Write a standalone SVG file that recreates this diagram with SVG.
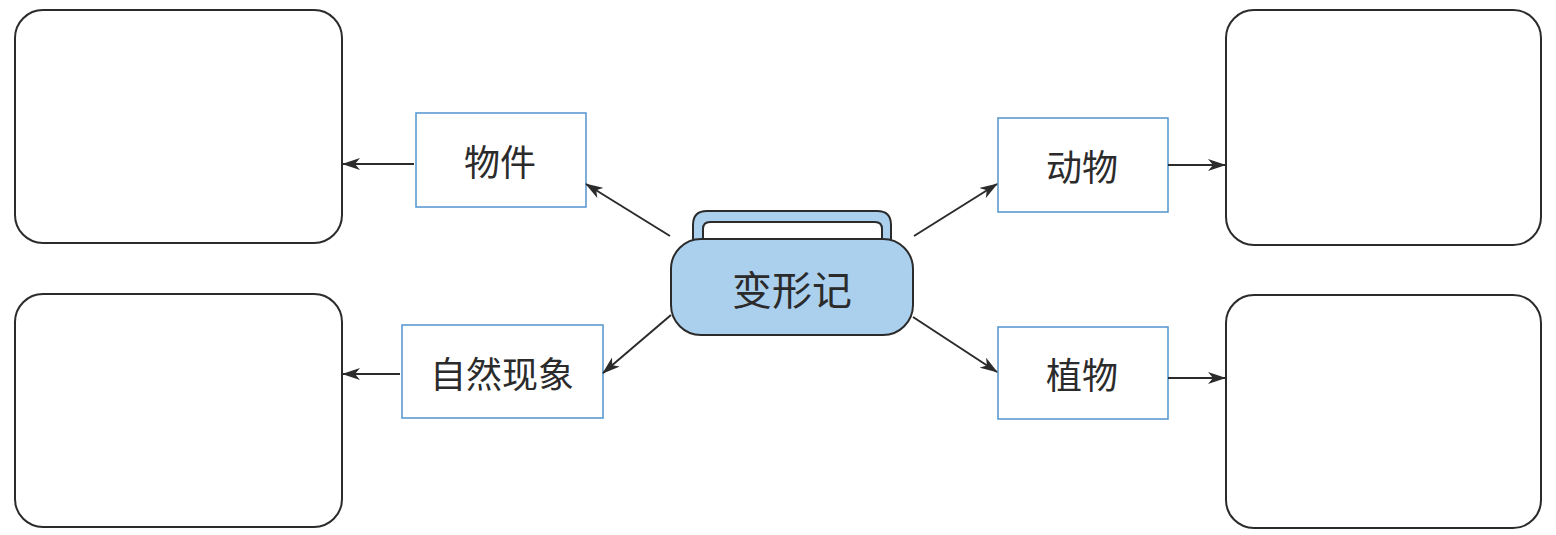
<svg xmlns="http://www.w3.org/2000/svg" width="1556" height="535" viewBox="0 0 1556 535">
<style>
.big{fill:#fff;stroke:#2b2b2b;stroke-width:2}
.lab{fill:#fff;stroke:#5b9bd0;stroke-width:1.6}
.t{font-family:"Noto Sans CJK SC","Liberation Sans",sans-serif;font-size:36px;fill:#2b2b2b;text-anchor:middle}
.c{stroke:#2b2b2b;stroke-width:2;fill:none;marker-end:url(#ah)}
</style>
<defs>
<marker id="ah" viewBox="0 0 18 12" refX="17" refY="6" markerWidth="18" markerHeight="12" markerUnits="userSpaceOnUse" orient="auto">
<path d="M0,0 L18,6 L0,12 L5,6 Z" fill="#2b2b2b"/>
</marker>
</defs>
<rect width="1556" height="535" fill="#fff"/>
<g id="box-lt"><rect class="big" x="15" y="10" width="327" height="233" rx="28"/></g>
<g id="box-lb"><rect class="big" x="15" y="294" width="327" height="233" rx="28"/></g>
<g id="box-rt"><rect class="big" x="1226" y="10" width="315" height="235" rx="28"/></g>
<g id="box-rb"><rect class="big" x="1226" y="295" width="315" height="233" rx="28"/></g>
<g id="wujian"><rect class="lab" x="416" y="113" width="170" height="94"/><text class="t" x="500" y="176">物件</text></g>
<g id="ziran"><rect class="lab" x="402" y="325" width="201" height="93"/><text class="t" x="502" y="388">自然现象</text></g>
<g id="dongwu"><rect class="lab" x="998" y="118" width="170" height="94"/><text class="t" x="1082" y="181">动物</text></g>
<g id="zhiwu"><rect class="lab" x="998" y="327" width="170" height="92"/><text class="t" x="1082" y="389">植物</text></g>
<g id="center">
<path d="M693,241 L693,225 Q693,211 707,211 L877,211 Q891,211 891,225 L891,241 Z" fill="#abd0ee" stroke="#2b2b2b" stroke-width="2"/>
<path d="M703,241 L703,229 Q703,222 710,222 L875,222 Q882,222 882,229 L882,241 Z" fill="#fff" stroke="#2b2b2b" stroke-width="2"/>
<rect x="671" y="239" width="242" height="96" rx="30" fill="#abd0ee" stroke="#2b2b2b" stroke-width="2"/>
<text class="t" x="792" y="305" style="font-size:40px">变形记</text>
</g>
<g id="connectors">
<line class="c" x1="670" y1="236" x2="586" y2="184"/>
<line class="c" x1="914" y1="236" x2="997" y2="184"/>
<line class="c" x1="671" y1="315" x2="603" y2="373"/>
<line class="c" x1="913" y1="317" x2="997" y2="372"/>
<line class="c" x1="414" y1="164" x2="343" y2="164"/>
<line class="c" x1="400" y1="374" x2="343" y2="374"/>
<line class="c" x1="1168" y1="165" x2="1225" y2="165"/>
<line class="c" x1="1168" y1="378" x2="1225" y2="378"/>
</g>
</svg>
